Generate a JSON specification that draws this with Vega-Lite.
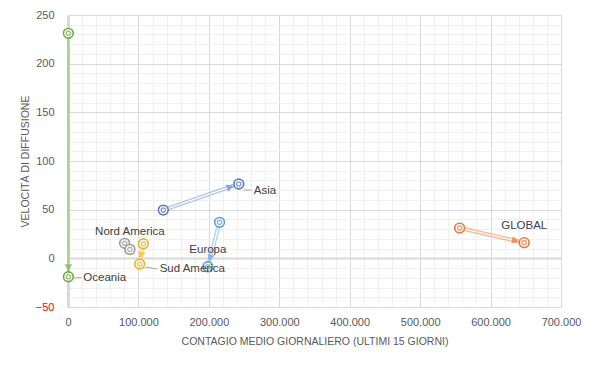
{
  "$schema": "https://vega.github.io/schema/vega-lite/v6.json",
  "width": 493,
  "height": 292,
  "autosize": {"type": "none"},
  "padding": {"left": 68, "top": 15, "right": 36, "bottom": 59},
  "background": "#ffffff",
  "config": {
    "view": {"stroke": null},
    "font": "Liberation Sans",
    "axis": {"labelFont": "Liberation Sans", "titleFont": "Liberation Sans", "titleFontWeight": "normal"}
  },
  "data": {
    "values": [
      {"regione": "GLOBAL", "x_inizio": 556000, "y_inizio": 31.1, "x_fine": 647800, "y_fine": 16.1},
      {"regione": "Asia", "x_inizio": 135300, "y_inizio": 49.6, "x_fine": 242500, "y_fine": 76.4},
      {"regione": "Europa", "x_inizio": 215200, "y_inizio": 37.0, "x_fine": 198600, "y_fine": -8.6},
      {"regione": "Nord America", "x_inizio": 80400, "y_inizio": 15.4, "x_fine": 87900, "y_fine": 9.2},
      {"regione": "Sud America", "x_inizio": 107000, "y_inizio": 15.0, "x_fine": 101700, "y_fine": -5.9},
      {"regione": "Oceania", "x_inizio": 500, "y_inizio": 231.2, "x_fine": 500, "y_fine": -18.9}
    ]
  },
  "encoding": {
    "x": {"field": "px", "type": "quantitative",
      "scale": {"domain": [0, 700000], "nice": false, "zero": false},
      "axis": {
        "title": "CONTAGIO MEDIO GIORNALIERO (ULTIMI 15 GIORNI)",
        "titleColor": "#595959", "titleFontSize": 10.5, "titlePadding": 9,
        "values": [0,20000,40000,60000,80000,100000,120000,140000,160000,180000,200000,220000,240000,260000,280000,300000,320000,340000,360000,380000,400000,420000,440000,460000,480000,500000,520000,540000,560000,580000,600000,620000,640000,660000,680000,700000],
        "labelExpr": "datum.value % 100000 === 0 ? (datum.value === 0 ? '0' : format(datum.value/1000, 'd') + '.000') : ''",
        "labelOverlap": false, "labelFlush": false,
        "labelColor": "#595959", "labelFontSize": 11, "labelPadding": 9,
        "ticks": false, "domain": false,
        "grid": true,
        "gridColor": {"condition": {"test": "datum.value % 100000 === 0", "value": "#D9D9D9"}, "value": "#F0F0F0"},
        "gridWidth": 1
      }
    },
    "y": {"field": "py", "type": "quantitative",
      "scale": {"domain": [-50, 250], "nice": false, "zero": false},
      "axis": {
        "title": "VELOCITÀ DI DIFFUSIONE",
        "titleColor": "#595959", "titleFontSize": 10.5, "titlePadding": 5,
        "values": [-50,-40,-30,-20,-10,0,10,20,30,40,50,60,70,80,90,100,110,120,130,140,150,160,170,180,190,200,210,220,230,240,250],
        "labelExpr": "datum.value % 50 === 0 ? format(datum.value, 'd') : ''",
        "labelOverlap": false, "labelFlush": false,
        "labelColor": {"condition": {"test": "datum.value < 0", "value": "#FF0000"}, "value": "#595959"},
        "labelFontSize": 11, "labelPadding": 14,
        "ticks": false, "domain": true, "domainColor": "#D9D9D9", "domainWidth": 3,
        "grid": true,
        "gridColor": {"condition": {"test": "datum.value % 50 === 0", "value": "#D9D9D9"}, "value": "#F0F0F0"},
        "gridWidth": {"condition": {"test": "datum.value === 0", "value": 2}, "value": 1}
      }
    }
  },
  "layer": [
    {
      "transform": [{"calculate": "datum.x_inizio", "as": "px"}, {"calculate": "datum.y_inizio", "as": "py"}],
      "mark": {"type": "rule", "opacity": 0.6},
      "encoding": {
        "x2": {"field": "x_fine"},
        "y2": {"field": "y_fine"},
        "strokeWidth": {"condition": {"test": "datum.regione === 'Oceania'", "value": 2.2}, "value": 4},
        "color": {"field": "regione", "type": "nominal", "legend": null,
          "scale": {"domain": ["GLOBAL", "Asia", "Europa", "Nord America", "Sud America", "Oceania"],
                    "range": ["#F08A4B", "#7F9FD9", "#7FB2E0", "#B0B0B0", "#F5C842", "#8DBF6A"]}}
      }
    },
    {
      "transform": [{"filter": "datum.regione !== 'Oceania'"}, {"calculate": "datum.x_inizio", "as": "px"}, {"calculate": "datum.y_inizio", "as": "py"}],
      "mark": {"type": "rule", "strokeWidth": 1.3, "color": "#ffffff"},
      "encoding": {
        "x2": {"field": "x_fine"},
        "y2": {"field": "y_fine"}
      }
    },
    {
      "transform": [
        {"calculate": "datum.x_fine", "as": "px"}, {"calculate": "datum.y_fine", "as": "py"},
        {"calculate": "-atan2((datum.y_fine - datum.y_inizio) * 292 / 300, (datum.x_fine - datum.x_inizio) * 493 / 700000) * 180 / PI", "as": "angolo"}
      ],
      "mark": {"type": "point", "shape": "M -0.55 0 L -1.25 -0.38 L -1.25 0.38 Z", "filled": true, "size": 400, "opacity": 0.9},
      "encoding": {
        "angle": {"field": "angolo", "type": "quantitative", "scale": null},
        "color": {"field": "regione", "type": "nominal", "legend": null}
      }
    },
    {
      "transform": [{"calculate": "datum.x_inizio", "as": "px"}, {"calculate": "datum.y_inizio", "as": "py"}],
      "mark": {"type": "point", "shape": "circle", "filled": false, "fill": "#ffffff", "fillOpacity": 1, "size": 95, "strokeWidth": 1.6},
      "encoding": {
        "stroke": {"field": "regione", "type": "nominal", "legend": null,
          "scale": {"domain": ["GLOBAL", "Asia", "Europa", "Nord America", "Sud America", "Oceania"],
                    "range": ["#E0793A", "#5877BE", "#5B9BD5", "#9A9A9A", "#E6B324", "#6FA84A"]}}
      }
    },
    {
      "transform": [{"calculate": "datum.x_inizio", "as": "px"}, {"calculate": "datum.y_inizio", "as": "py"}],
      "mark": {"type": "point", "shape": "circle", "filled": false, "size": 18, "strokeWidth": 1.4},
      "encoding": {
        "stroke": {"field": "regione", "type": "nominal", "legend": null}
      }
    },
    {
      "transform": [{"calculate": "datum.x_fine", "as": "px"}, {"calculate": "datum.y_fine", "as": "py"}],
      "mark": {"type": "point", "shape": "circle", "filled": false, "fill": "#ffffff", "fillOpacity": 1, "size": 95, "strokeWidth": 1.6},
      "encoding": {
        "stroke": {"field": "regione", "type": "nominal", "legend": null}
      }
    },
    {
      "transform": [{"calculate": "datum.x_fine", "as": "px"}, {"calculate": "datum.y_fine", "as": "py"}],
      "mark": {"type": "point", "shape": "circle", "filled": false, "size": 18, "strokeWidth": 1.4},
      "encoding": {
        "stroke": {"field": "regione", "type": "nominal", "legend": null}
      }
    },
    {
      "transform": [{"filter": "datum.regione === 'Asia'"}, {"calculate": "datum.x_fine", "as": "px"}, {"calculate": "datum.y_fine", "as": "py"}],
      "mark": {"type": "rule", "color": "#A6A6A6", "strokeWidth": 1, "xOffset": 5, "yOffset": 6, "x2Offset": 13, "y2Offset": 6},
      "encoding": {"x2": {"field": "x_fine"}, "y2": {"field": "y_fine"}}
    },
    {
      "transform": [{"filter": "datum.regione === 'Sud America'"}, {"calculate": "datum.x_fine", "as": "px"}, {"calculate": "datum.y_fine", "as": "py"}],
      "mark": {"type": "rule", "color": "#A6A6A6", "strokeWidth": 1, "xOffset": 5, "yOffset": 3, "x2Offset": 18, "y2Offset": 5},
      "encoding": {"x2": {"field": "x_fine"}, "y2": {"field": "y_fine"}}
    },
    {
      "transform": [{"filter": "datum.regione === 'Oceania'"}, {"calculate": "datum.x_fine", "as": "px"}, {"calculate": "datum.y_fine", "as": "py"}],
      "mark": {"type": "rule", "color": "#A6A6A6", "strokeWidth": 1, "xOffset": 6, "yOffset": 1, "x2Offset": 13, "y2Offset": 1},
      "encoding": {"x2": {"field": "x_fine"}, "y2": {"field": "y_fine"}}
    },
    {
      "transform": [{"filter": "datum.regione === 'Asia'"}, {"calculate": "datum.x_fine", "as": "px"}, {"calculate": "datum.y_fine", "as": "py"}],
      "mark": {"type": "text", "align": "left", "baseline": "middle", "dx": 15, "dy": 7, "fontSize": 11.5, "color": "#404040"},
      "encoding": {"text": {"field": "regione"}}
    },
    {
      "transform": [{"filter": "datum.regione === 'Sud America'"}, {"calculate": "datum.x_fine", "as": "px"}, {"calculate": "datum.y_fine", "as": "py"}],
      "mark": {"type": "text", "align": "left", "baseline": "middle", "dx": 20, "dy": 5, "fontSize": 11.5, "color": "#404040"},
      "encoding": {"text": {"field": "regione"}}
    },
    {
      "transform": [{"filter": "datum.regione === 'Oceania'"}, {"calculate": "datum.x_fine", "as": "px"}, {"calculate": "datum.y_fine", "as": "py"}],
      "mark": {"type": "text", "align": "left", "baseline": "middle", "dx": 15, "dy": 1, "fontSize": 11.5, "color": "#404040"},
      "encoding": {"text": {"field": "regione"}}
    },
    {
      "transform": [{"filter": "datum.regione === 'GLOBAL' || datum.regione === 'Europa' || datum.regione === 'Nord America'"}, {"calculate": "datum.x_fine", "as": "px"}, {"calculate": "datum.y_fine", "as": "py"}],
      "mark": {"type": "text", "align": "center", "baseline": "middle", "dy": -17, "fontSize": 11.5, "color": "#404040"},
      "encoding": {"text": {"field": "regione"}}
    }
  ]
}
